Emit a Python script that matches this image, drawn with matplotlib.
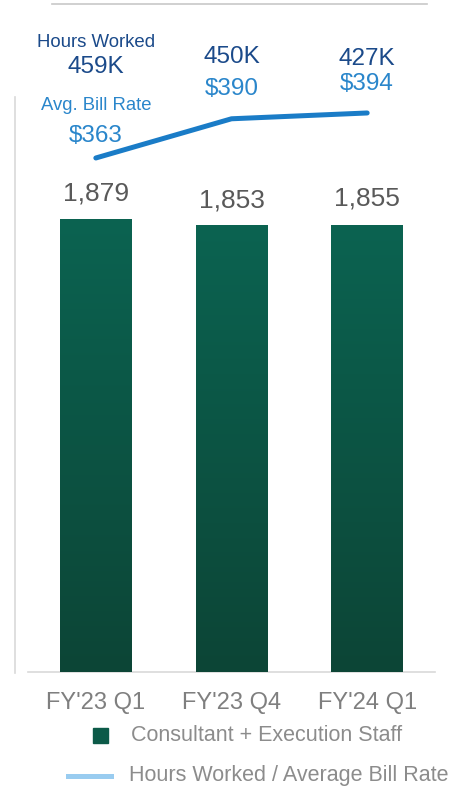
import numpy as np
import matplotlib
matplotlib.use("Agg")
import matplotlib.pyplot as plt
from matplotlib.patches import Rectangle
from matplotlib.lines import Line2D
from matplotlib.colors import LinearSegmentedColormap

categories = ["FY'23 Q1", "FY'23 Q4", "FY'24 Q1"]
staff = [1879, 1853, 1855]
bill_rate = [363, 390, 394]
hours_k = [459, 450, 427]

plt.rcParams['font.family'] = ['Liberation Sans', 'DejaVu Sans']

W, H = 460, 790
fig = plt.figure(figsize=(W / 100, H / 100), dpi=100)

def fx(px):
    return px / W

def fy(py):
    return 1 - py / H

ax = fig.add_axes([fx(28), fy(672), fx(435) - fx(28), fy(97) - fy(672)])
ax2 = ax.twinx()

x = np.arange(len(categories))
bars = ax.bar(x, staff, width=0.53, color='#0c5a48', zorder=2)
cmap = LinearSegmentedColormap.from_list('g', ['#0d4536', '#0b6351'])
grad = np.linspace(0, 1, 256).reshape(-1, 1)
for b in bars:
    x0, y0 = b.get_x(), b.get_y()
    im = ax.imshow(grad, cmap=cmap, origin='lower', aspect='auto',
                   extent=[x0, x0 + b.get_width(), y0, y0 + b.get_height()], zorder=3)
    im.set_clip_path(b)
ax.set_xlim(-0.5, 2.5)
ax.set_ylim(0, 2385)
for s in ['top', 'right', 'left']:
    ax.spines[s].set_visible(False)
    ax2.spines[s].set_visible(False)
ax2.spines['bottom'].set_visible(False)
ax.spines['bottom'].set_color('#d9d9d9')
ax.spines['bottom'].set_linewidth(1.2)
ax.set_yticks([])
ax2.set_yticks([])
ax.set_xticks(x)
ax.set_xticklabels(categories, fontsize=17, color='#7f7f7f')
ax.tick_params(axis='x', length=0, pad=14.5)

# bar value labels
bar_offsets = [18, 18, 19]
for i, v in enumerate(staff):
    ax.annotate(f"{v:,}", (x[i], v), xytext=(0, bar_offsets[i]), textcoords='offset points',
                ha='center', va='center', fontsize=19, color='#595959')

ax2.plot(x, bill_rate, color='#1a7cc7', lw=3.6, solid_capstyle='round', zorder=4)
ax2.set_ylim(9, 405)

dark = '#1b4a8a'
light = '#2a86cb'
# first point labels
ax2.annotate("$363", (x[0], bill_rate[0]), xytext=(0, 16), textcoords='offset points',
             ha='center', va='center', fontsize=17.5, color=light)
ax2.annotate("Avg. Bill Rate", (x[0], bill_rate[0]), xytext=(0, 37.5), textcoords='offset points',
             ha='center', va='center', fontsize=13.3, color=light)
ax2.annotate(f"{hours_k[0]}K", (x[0], bill_rate[0]), xytext=(0, 65.5), textcoords='offset points',
             ha='center', va='center', fontsize=17.5, color=dark)
ax2.annotate("Hours Worked", (x[0], bill_rate[0]), xytext=(0, 83.5), textcoords='offset points',
             ha='center', va='center', fontsize=13.4, color=dark)
rate_off = {1: 21.8, 2: 21}
hour_off = {1: 44.5, 2: 38.7}
for i in [1, 2]:
    ax2.annotate(f"${bill_rate[i]}", (x[i], bill_rate[i]), xytext=(0, rate_off[i]), textcoords='offset points',
                 ha='center', va='center', fontsize=17.5, color=light)
    ax2.annotate(f"{hours_k[i]}K", (x[i], bill_rate[i]), xytext=(0, hour_off[i]),
                 textcoords='offset points', ha='center', va='center', fontsize=17.5, color=dark)

# decorative lines
fig.add_artist(Line2D([fx(52), fx(427)], [fy(4), fy(4)], color='#c8c8c8', lw=1.2))
fig.add_artist(Line2D([fx(15), fx(15)], [fy(97), fy(673)], color='#d9d9d9', lw=1.2))

# legend
fig.add_artist(Rectangle((fx(93), fy(743)), fx(108) - fx(93), fy(728) - fy(743),
                         transform=fig.transFigure, color='#0c5a48'))
fig.text(fx(131), fy(735.5), "Consultant + Execution Staff", fontsize=15.5, color='#8c8c8c',
         ha='left', va='center')
fig.add_artist(Line2D([fx(68), fx(111)], [fy(775.5), fy(775.5)], color='#99ccf0', lw=3.6))
fig.text(fx(129), fy(776), "Hours Worked / Average Bill Rate", fontsize=15.5, color='#8c8c8c',
         ha='left', va='center')

fig.savefig('out.png', dpi=100)
